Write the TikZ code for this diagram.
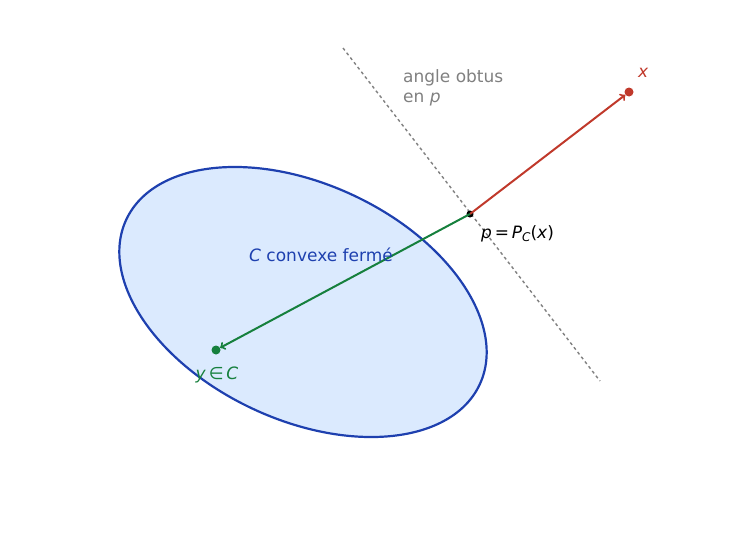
\documentclass[tikz,border=0pt]{standalone}
\usepackage{fontspec}
\setmainfont{DejaVu Sans}
\usetikzlibrary{positioning}
\definecolor{setblue}{RGB}{30,64,175}
\definecolor{setfill}{RGB}{219,234,254}
\definecolor{ptred}{RGB}{192,57,43}
\definecolor{ptgreen}{RGB}{22,128,61}
\newcommand{\vv}[1]{\textit{#1}}

\begin{document}
\begin{tikzpicture}[x=1pt,y=-1pt,
        dot/.style={circle, inner sep=0pt, minimum size=7pt},
        lbl/.style={font=\fontsize{17}{20}\selectfont, inner sep=1pt}]
        \useasboundingbox (0,0) rectangle (729,538);
        \draw[setblue, line width=2.2pt, fill=setfill] (303,302) ellipse[x radius=195, y radius=118, rotate=-25];
        \coordinate (tA) at (343,48);
        \coordinate (tB) at (600,381);
        \draw[gray, dashed, line width=1.4pt] (tA) -- (tB);
        \node[dot,fill=black] (p) at (470,214) {};
        \node[dot,fill=ptred,minimum size=9pt] (x) at (629,92) {};
        \node[dot,fill=ptgreen,minimum size=9pt] (y) at (216,350) {};
        \draw[->, ptred, line width=2pt] (p.center) -- (x);
        \draw[->, ptgreen, line width=2pt] (p.center) -- (y);
        \node[lbl, text=ptred, anchor=west] (xlabel) at (637,73) {\vv{x}};
        \node[lbl, anchor=west] (plabel) at (480,234) {\vv{p}\,=\,\vv{P}\raisebox{-0.3ex}{\fontsize{12}{14}\selectfont\vv{C}}(\vv{x})};
        \node[lbl, text=gray, anchor=north west, align=left] (angle) at (402,68) {angle obtus\\en \vv{p}};
        \node[lbl, text=setblue] (setname) at (321,255) {\vv{C} convexe fermé};
        \node[lbl, text=ptgreen] (ylabel) at (217,375) {\vv{y}\,∈\,\vv{C}};
\end{tikzpicture}
\end{document}
